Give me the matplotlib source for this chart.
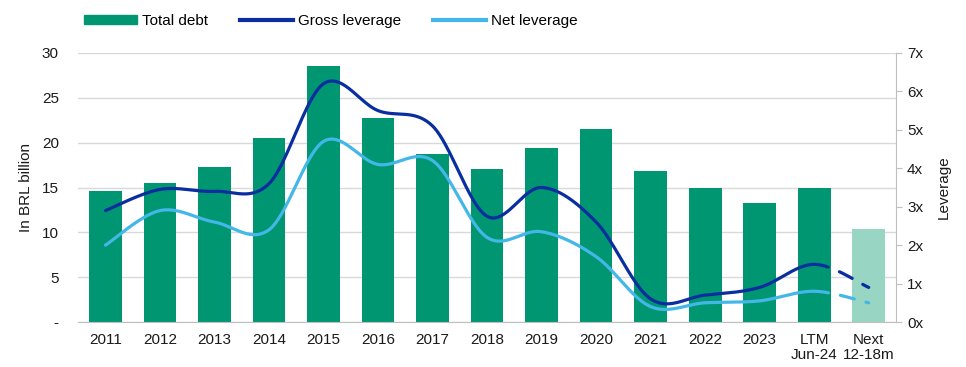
import numpy as np
import matplotlib.pyplot as plt
from matplotlib.patches import Patch
from matplotlib.lines import Line2D

# data
categories = ["2011", "2012", "2013", "2014", "2015", "2016", "2017", "2018",
              "2019", "2020", "2021", "2022", "2023", "LTM\nJun-24", "Next\n12-18m"]
total_debt = [14.6, 15.5, 17.3, 20.5, 28.5, 22.7, 18.7, 17.1, 19.4, 21.5, 16.8, 14.9, 13.3, 14.9, 10.4]
gross_leverage = [2.9, 3.45, 3.4, 3.6, 6.2, 5.5, 5.1, 2.75, 3.5, 2.6, 0.6, 0.7, 0.9, 1.5, 0.9]
net_leverage = [2.0, 2.9, 2.6, 2.4, 4.7, 4.1, 4.2, 2.2, 2.35, 1.7, 0.4, 0.5, 0.55, 0.8, 0.5]
left_ticks = [0, 5, 10, 15, 20, 25, 30]
left_labels = ["-", "5", "10", "15", "20", "25", "30"]
right_ticks = [0, 1, 2, 3, 4, 5, 6, 7]

GREEN = "#009672"
LIGHT_GREEN = "#99d5c3"
DARK_BLUE = "#0a2e9f"
LIGHT_BLUE = "#43b7e7"
GRID = "#d9d9d9"
TEXT = "#1a1a1a"


def smooth(xs, ys, n=40):
    # Catmull-Rom style bezier, similar to Excel's smoothed lines
    xs = np.asarray(xs, float)
    ys = np.asarray(ys, float)
    px, py = [], []
    m = len(xs)
    for i in range(m - 1):
        x0, y0 = (xs[i - 1], ys[i - 1]) if i > 0 else (xs[i], ys[i])
        x1, y1 = xs[i], ys[i]
        x2, y2 = xs[i + 1], ys[i + 1]
        x3, y3 = (xs[i + 2], ys[i + 2]) if i + 2 < m else (xs[i + 1], ys[i + 1])
        c1x, c1y = x1 + (x2 - x0) / 6, y1 + (y2 - y0) / 6
        c2x, c2y = x2 - (x3 - x1) / 6, y2 - (y3 - y1) / 6
        t = np.linspace(0, 1, n)
        bx = (1 - t) ** 3 * x1 + 3 * (1 - t) ** 2 * t * c1x + 3 * (1 - t) * t ** 2 * c2x + t ** 3 * x2
        by = (1 - t) ** 3 * y1 + 3 * (1 - t) ** 2 * t * c1y + 3 * (1 - t) * t ** 2 * c2y + t ** 3 * y2
        px.append(bx)
        py.append(by)
    return px, py


plt.rcParams['font.family'] = ['Liberation Sans', 'DejaVu Sans']
plt.rcParams['font.size'] = 11

fig = plt.figure(figsize=(9.66, 3.67), dpi=100)
ax = fig.add_axes([0.081, 0.1226, 0.8465, 0.733])
ax2 = ax.twinx()

x = np.arange(len(categories))
colors = [GREEN] * (len(categories) - 1) + [LIGHT_GREEN]
ax.bar(x, total_debt, width=0.6, color=colors, zorder=2)

ax.set_xlim(-0.5, len(categories) - 0.5)
ax.set_ylim(0, 30)
ax.set_yticks(left_ticks)
ax.set_yticklabels(left_labels)
ax.yaxis.grid(True, color=GRID, linewidth=1, zorder=0)
ax.set_axisbelow(True)
ax.set_xticks(x)
ax.set_xticklabels(categories, linespacing=1.05)
ax.tick_params(axis='both', length=0, colors=TEXT, labelsize=11)
ax.tick_params(axis='y', pad=14)
ax.tick_params(axis='x', pad=8)
for s in ['top', 'right', 'left']:
    ax.spines[s].set_visible(False)
ax.spines['bottom'].set_color("#bfbfbf")
ax.set_ylabel("In BRL billion", color=TEXT, labelpad=6)

for vals, col in [(gross_leverage, DARK_BLUE), (net_leverage, LIGHT_BLUE)]:
    segx, segy = smooth(x, vals)
    solid_x = np.concatenate(segx[:-1])
    solid_y = np.concatenate(segy[:-1])
    ax2.plot(solid_x, solid_y, color=col, lw=2.3, solid_capstyle='round', zorder=3)
    ax2.plot(segx[-1], segy[-1], color=col, lw=2.3, linestyle=(0, (4.5, 3.8)),
             dash_capstyle='round', zorder=3)

ax2.set_ylim(0, 7)
ax2.set_yticks(right_ticks)
ax2.set_yticklabels([f"{t}x" for t in right_ticks])
ax2.tick_params(axis='y', direction='out', length=4, color="#bfbfbf", colors=TEXT, labelsize=11, pad=4)
ax2.tick_params(axis='y', which='both', color="#bfbfbf")
for s in ['top', 'left', 'bottom']:
    ax2.spines[s].set_visible(False)
ax2.spines['right'].set_color("#bfbfbf")
ax2.set_ylabel("Leverage", color=TEXT, labelpad=10)

handles = [Patch(color=GREEN), Line2D([], [], color=DARK_BLUE, lw=3), Line2D([], [], color=LIGHT_BLUE, lw=3)]
fig.legend(handles, ["Total debt", "Gross leverage", "Net leverage"], ncol=3,
           loc='upper left', bbox_to_anchor=(0.073, 1.0), frameon=False,
           handlelength=3.45, handleheight=0.5, handletextpad=0.33, columnspacing=2.1,
           fontsize=11)

fig.savefig("out.png", dpi=100)
